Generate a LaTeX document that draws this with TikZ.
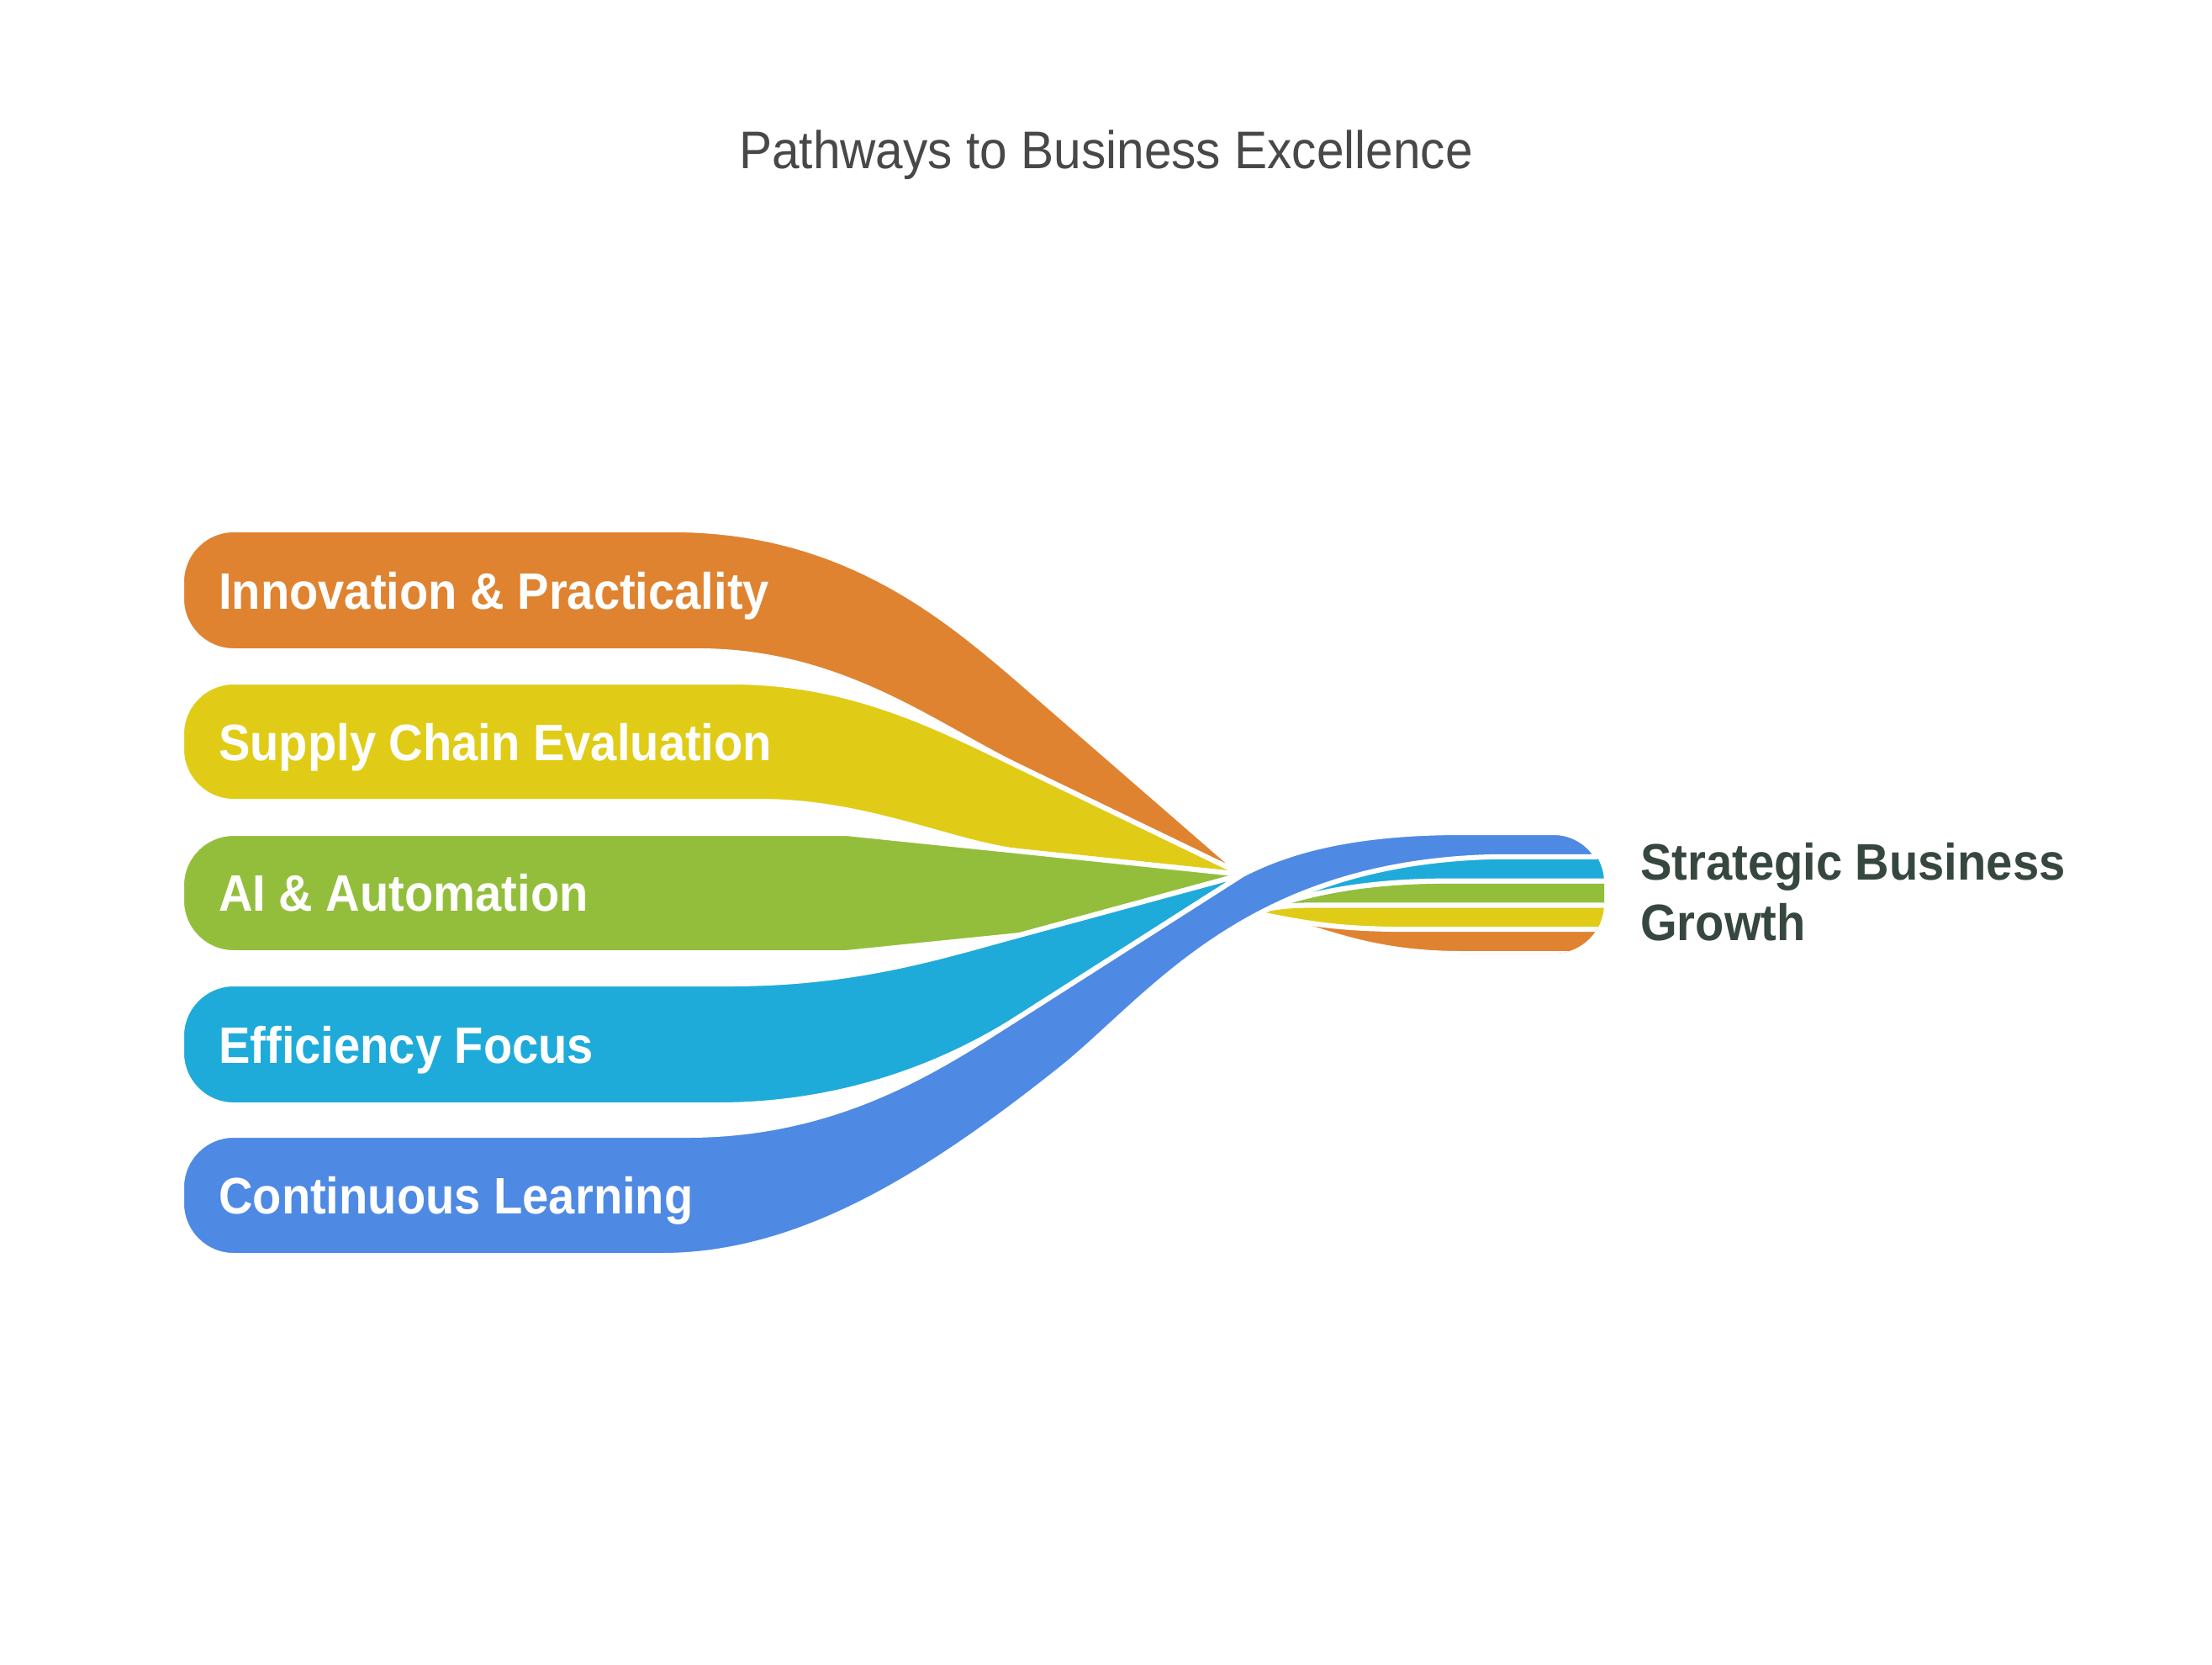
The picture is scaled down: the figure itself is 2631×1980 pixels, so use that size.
\documentclass[tikz,border=0pt]{standalone}
\usepackage{fontspec}
\setmainfont{Liberation Sans}
\newfontfamily\lblfont[FakeStretch=0.92]{Liberation Sans}
\newfontfamily\ttlfont[FakeStretch=0.93]{Liberation Sans}
\definecolor{cOr}{RGB}{223,131,49}
\definecolor{cYe}{RGB}{224,204,22}
\definecolor{cGr}{RGB}{147,190,59}
\definecolor{cCy}{RGB}{31,171,217}
\definecolor{cBl}{RGB}{78,137,228}
\definecolor{cDark}{RGB}{54,71,63}
\definecolor{cTitle}{RGB}{72,72,72}
\begin{document}
\begin{tikzpicture}[x=1pt,y=-1pt,
  band/.style={line width=6pt, draw=white, line join=round},
  lbl/.style={anchor=base west, text=white, inner sep=0pt, font=\lblfont\bfseries\fontsize{61}{72}\selectfont},
]
\useasboundingbox[fill=white] (0,0) rectangle (2631,1980);
\coordinate (T) at (1478,1040);
\coordinate (K0) at (1210,807);
\coordinate (K1) at (1213,912);
\coordinate (K2) at (1210,1012);
\coordinate (K3) at (1213,1112);
\coordinate (K4) at (1210,1211);

% left bands
\path[band, fill=cOr] (278,630) -- (800,630) .. controls (1000,630) and (1120,730) .. (K0) -- (T) -- (K1)
  .. controls (1110,862) and (1000,774) .. (830,774) -- (278,774)
  arc[start angle=90,end angle=180,radius=62] -- (216,692) arc[start angle=180,end angle=270,radius=62] -- cycle;
\path[band, fill=cYe] (278,811) -- (870,811) .. controls (1010,811) and (1110,862) .. (K1) -- (T) -- (K2)
  .. controls (1130,1002) and (1030,953) .. (904,953) -- (278,953)
  arc[start angle=90,end angle=180,radius=62] -- (216,873) arc[start angle=180,end angle=270,radius=62] -- cycle;
\path[band, fill=cGr] (278,991) -- (1006,991) -- (K2) -- (T) -- (K3) -- (1006,1133) -- (278,1133)
  arc[start angle=90,end angle=180,radius=62] -- (216,1053) arc[start angle=180,end angle=270,radius=62] -- cycle;
\path[band, fill=cCy] (278,1170) -- (868,1170) .. controls (1020,1170) and (1120,1137) .. (K3) -- (T) -- (K4)
  .. controls (1120,1268) and (1000,1314) .. (853,1314) -- (278,1314)
  arc[start angle=90,end angle=180,radius=62] -- (216,1232) arc[start angle=180,end angle=270,radius=62] -- cycle;

% right bundle stripes
\begin{scope}
\clip (1400,990) -- (1848,990) arc[start angle=270,end angle=360,radius=60] -- (1908,1074)
  arc[start angle=0,end angle=90,radius=60] -- (1400,1134) -- cycle;
\path[band, fill=cOr] (1530,1095) -- (1960,1095) -- (1960,1134) -- (1740,1134)
  .. controls (1640,1134) and (1590,1112) .. (1530,1095) -- cycle;
\path[band, fill=cYe] (1490,1085) .. controls (1510,1079) and (1530,1076.4) .. (1560,1076.4) -- (1960,1076.4)
  -- (1960,1105.2) -- (1680,1105.2) .. controls (1600,1105.2) and (1560,1100) .. (1490,1085) -- cycle;
\path[band, fill=cGr] (1505,1080) .. controls (1560,1062) and (1620,1048) .. (1720,1047.6) -- (1960,1047.6)
  -- (1960,1076.4) -- (1560,1076.4) .. controls (1530,1076.4) and (1510,1079) .. (1490,1085) -- cycle;
\path[band, fill=cCy] (1505,1080) .. controls (1560,1062) and (1620,1048) .. (1720,1047.6) -- (1960,1047.6)
  -- (1960,1000) -- (1780,1000) -- (1505,1062) -- cycle;
\end{scope}

% blue band crossing over
\path[band, fill=cBl] (278,1350) -- (817,1350) .. controls (1000,1350) and (1120,1268) .. (K4) -- (T)
  .. controls (1540,1008) and (1620,990) .. (1740,990) -- (1848,990)
  arc[start angle=270,end angle=328.7,radius=60] -- (1780,1018.8)
  .. controls (1480,1025) and (1370,1185) .. (1261,1272)
  .. controls (1100,1400) and (950,1493) .. (787,1493) -- (278,1493)
  arc[start angle=90,end angle=180,radius=62] -- (216,1412) arc[start angle=180,end angle=270,radius=62] -- cycle;

% texts
\node[anchor=base, text=cTitle, inner sep=0pt, font=\ttlfont\fontsize{63}{75}\selectfont] (title) at (1315.5,201) {Pathways to Business Excellence};
\node[lbl] (l1) at (260,724) {Innovation \& Practicality};
\node[lbl] (l2) at (260,904) {Supply Chain Evaluation};
\node[lbl] (l3) at (260,1083) {AI \& Automation};
\node[lbl] (l4) at (260,1264) {Efficiency Focus};
\node[lbl] (l5) at (260,1443) {Continuous Learning};
\node[anchor=north west, align=left, text=cDark, inner sep=0pt, font=\lblfont\bfseries\fontsize{61}{72}\selectfont] (goal) at (1951,1002) {Strategic Business\\Growth};
\end{tikzpicture}
\end{document}
